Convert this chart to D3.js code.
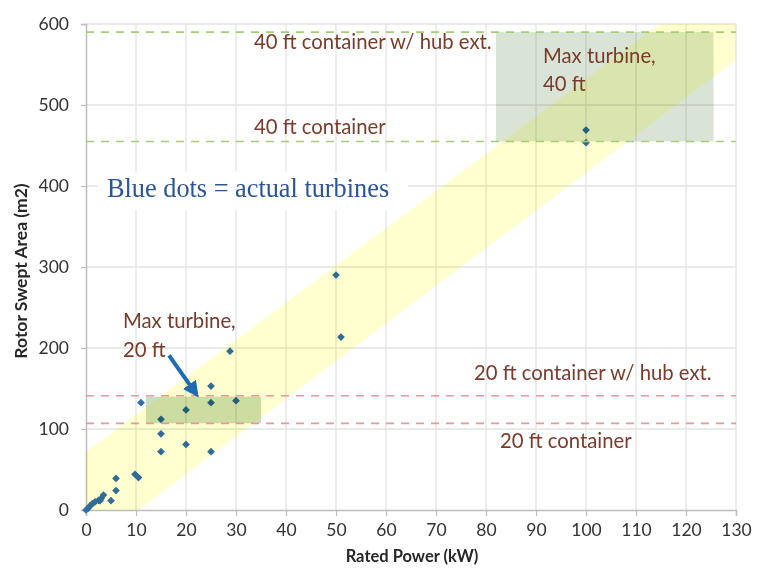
<!DOCTYPE html>
<html>
<head>
<meta charset="utf-8">
<script src="https://cdn.jsdelivr.net/npm/d3@7"></script>
<style>
  body { margin: 0; background: #fff; }
  svg { display: block; }
</style>
</head>
<body>
<svg id="chart"></svg>
<script>
// Turbines: rated power (kW) vs rotor swept area (m2)
const powerKW = [0, 0.4, 0.8, 1.3, 1.8, 2.5, 2.8, 3.0, 3.5, 5.0, 6.0, 6.0, 9.8, 10.5, 11, 15, 15, 15, 20, 20, 25, 25, 25, 28.8, 30, 50, 51, 100, 100];
const areaM2 = [0, 2, 5, 8, 10, 12, 11.5, 14, 18.5, 11.5, 24, 39, 44, 40, 132.5, 112, 94, 72, 123.5, 81, 153, 132.5, 72, 196, 135, 290, 213.5, 469, 453.5];

// Container size limits (dashed lines)
const limitNames = ["20 ft container", "20 ft container w/ hub ext.", "40 ft container", "40 ft container w/ hub ext."];
const limitArea = [107, 141, 455, 590];

// Max turbine boxes: power range and area range
const boxPower = [[12, 35], [82, 125.5]];
const boxArea = [[107, 140], [455, 590]];

// Yellow trend band edges (power, area)
const bandLower = [[10.5, 0], [130, 556]];
const bandUpper = [[0, 72], [114.8, 600]];

const xTicks = d3.range(0, 131, 10);
const yTicks = d3.range(0, 601, 100);

const margin = { top: 24, right: 22, bottom: 58, left: 86 };
const width = 758 - margin.left - margin.right;
const height = 568 - margin.top - margin.bottom;
const sans = "Lato, 'Open Sans', sans-serif";

const svg = d3.select("#chart").attr("width", 758).attr("height", 568);
const g = svg.append("g").attr("transform", "translate(" + margin.left + "," + margin.top + ")");

const x = d3.scaleLinear().domain([0, 130]).range([0, width]);
const y = d3.scaleLinear().domain([0, 600]).range([height, 0]);

svg.append("defs").append("marker")
  .attr("id", "head").attr("viewBox", "0 0 10 10").attr("refX", 5).attr("refY", 5)
  .attr("markerWidth", 4).attr("markerHeight", 4).attr("orient", "auto")
  .append("path").attr("d", "M0,0L10,5L0,10z").attr("fill", "#1f6cb3");

// grid
g.append("g").selectAll("line").data(xTicks.slice(1)).join("line")
  .attr("x1", d => x(d)).attr("x2", d => x(d)).attr("y1", 0).attr("y2", height)
  .attr("stroke", "#e3e3e3").attr("stroke-width", 1.3);
g.append("g").selectAll("line").data(yTicks.slice(1)).join("line")
  .attr("x1", 0).attr("x2", width).attr("y1", d => y(d)).attr("y2", d => y(d))
  .attr("stroke", "#e3e3e3").attr("stroke-width", 1.3);

// white patch behind the blue note
g.append("rect").attr("x", x(2.4)).attr("y", y(418)).attr("width", x(64.4) - x(2.4)).attr("height", y(370) - y(418)).attr("fill", "#fff");

// axes
const xAxis = g.append("g").attr("transform", "translate(0," + height + ")")
  .call(d3.axisBottom(x).tickValues(xTicks).tickSize(6).tickPadding(8));
const yAxis = g.append("g")
  .call(d3.axisLeft(y).tickValues(yTicks).tickSize(5).tickPadding(12));
[xAxis, yAxis].forEach(a => {
  a.select(".domain").attr("stroke", "#bdbdbd").attr("stroke-width", 1.5);
  a.selectAll(".tick line").attr("stroke", "#bdbdbd").attr("stroke-width", 1.2);
  a.selectAll("text").attr("font-family", sans).attr("font-size", 17.5).attr("fill", "#333");
});

// points
const pts = powerKW.map((p, i) => ({ p: p, a: areaM2[i] }));
g.append("g").selectAll("path").data(pts).join("path")
  .attr("transform", d => "translate(" + x(d.p) + "," + y(d.a) + ") rotate(45)")
  .attr("d", d3.symbol(d3.symbolSquare, 30))
  .attr("fill", "#2f6db5");

// band (multiplied over points and grid)
const bandPoly = [[0, 0]].concat(bandLower, [[130, 600]], bandUpper.slice().reverse());
g.append("path")
  .attr("d", d3.line().x(d => x(d[0])).y(d => y(d[1]))(bandPoly) + "Z")
  .attr("fill", "#ffffd0").style("mix-blend-mode", "multiply");

// max turbine boxes
const boxFill = ["#cddcc6", "#dae4d6"];
g.selectAll(".box").data(boxPower).join("rect").attr("class", "box")
  .attr("x", d => x(d[0])).attr("width", d => x(d[1]) - x(d[0]))
  .attr("y", (d, i) => y(boxArea[i][1])).attr("height", (d, i) => y(boxArea[i][0]) - y(boxArea[i][1]))
  .attr("fill", (d, i) => boxFill[i]).style("mix-blend-mode", "multiply");

// container lines
g.append("g").selectAll("line").data(limitArea).join("line")
  .attr("x1", 0).attr("x2", width).attr("y1", d => y(d)).attr("y2", d => y(d))
  .attr("stroke", (d, i) => i < 2 ? "#e49a9a" : "#a8cc74")
  .attr("stroke-width", 1.6).attr("stroke-dasharray", "8,7");

// annotations
const notes = [
  { t: limitNames[3], px: 33.6, a: 569 },
  { t: limitNames[2], px: 33.6, a: 464 },
  { t: limitNames[1], px: 77.6, a: 161 },
  { t: limitNames[0], px: 82.8, a: 76.5 },
  { t: "Max turbine,", px: 91.4, a: 552 },
  { t: "40 ft", px: 91.4, a: 517 },
  { t: "Max turbine,", px: 7.4, a: 224.7 },
  { t: "20 ft", px: 7.4, a: 189.5 }
];
g.append("g").selectAll("text").data(notes).join("text")
  .attr("x", d => x(d.px)).attr("y", d => y(d.a))
  .attr("font-family", sans).attr("font-size", 20.3).attr("fill", "#7a3b2b").text(d => d.t);

g.append("text").attr("x", x(4.2)).attr("y", y(386))
  .attr("font-family", "'Liberation Serif', 'DejaVu Serif', serif").attr("font-size", 26.3)
  .attr("fill", "#2b5597").text("Blue dots = actual turbines");

// arrow to 20 ft box
g.append("line")
  .attr("x1", x(16.6)).attr("y1", y(191)).attr("x2", x(21.6)).attr("y2", y(147))
  .attr("stroke", "#1f6cb3").attr("stroke-width", 4).attr("marker-end", "url(#head)");

// axis titles
svg.append("text").attr("x", 412).attr("y", 562).attr("text-anchor", "middle")
  .attr("font-family", sans).attr("font-weight", "bold").attr("font-size", 16.5).attr("fill", "#262626").text("Rated Power (kW)");
svg.append("text").attr("transform", "translate(27,271) rotate(-90)").attr("text-anchor", "middle")
  .attr("font-family", sans).attr("font-weight", "bold").attr("font-size", 17.5).attr("fill", "#262626").text("Rotor Swept Area (m2)");
</script>
</body>
</html>
